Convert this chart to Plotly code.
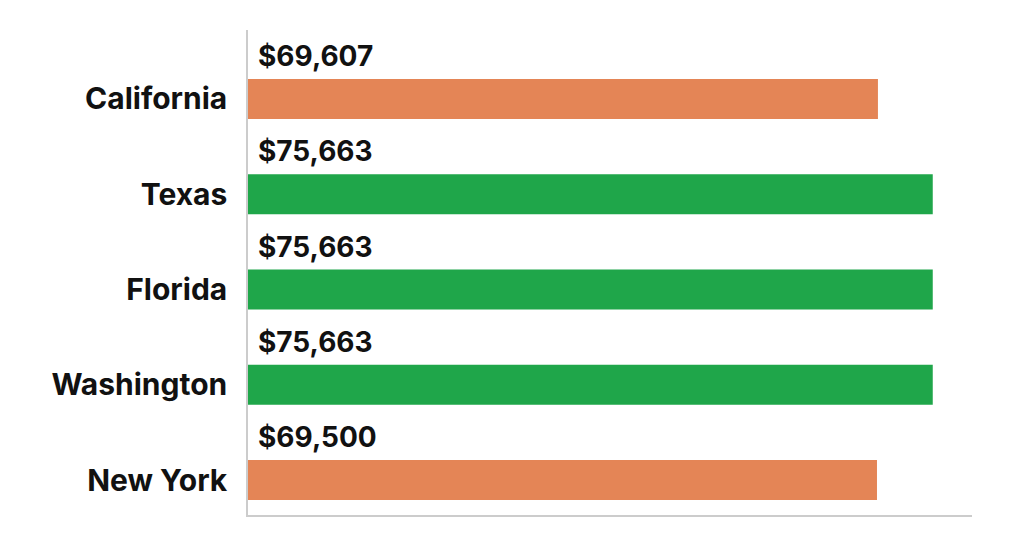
import plotly.graph_objects as go

states = ["California", "Texas", "Florida", "Washington", "New York"]
salaries = [69607, 75663, 75663, 75663, 69500]
labels = ["$69,607", "$75,663", "$75,663", "$75,663", "$69,500"]
bar_colors = ["#E48556", "#1FA64A", "#1FA64A", "#1FA64A", "#E48556"]

fig = go.Figure()
fig.add_trace(go.Bar(
    y=states, x=salaries, orientation="h",
    marker=dict(color=bar_colors, line=dict(width=0)),
    width=0.42, hoverinfo="skip",
))

for s, lab in zip(states, labels):
    fig.add_annotation(
        x=0, y=s, xref="x", yref="y", text=lab, showarrow=False,
        xanchor="left", yanchor="middle", xshift=8, yshift=43,
        font=dict(family="Inter", size=28, color="#111111", weight="bold"),
    )

fig.update_layout(
    width=1024, height=559,
    margin=dict(l=248, r=52, t=30, b=44),
    paper_bgcolor="white", plot_bgcolor="white",
    showlegend=False,
    xaxis=dict(range=[0, 80000], showgrid=False, zeroline=False,
               showticklabels=False, showline=True, linecolor="#cccccc",
               linewidth=1.5, ticks=""),
    yaxis=dict(categoryorder="array", categoryarray=states,
               range=[4.367, -0.724], showgrid=False, zeroline=False,
               showline=True, linecolor="#cccccc", linewidth=1.5, ticks="",
               ticklabelstandoff=13,
               tickfont=dict(family="Inter", size=30, color="#111111", weight="bold")),
)

fig.write_html("out.html")
